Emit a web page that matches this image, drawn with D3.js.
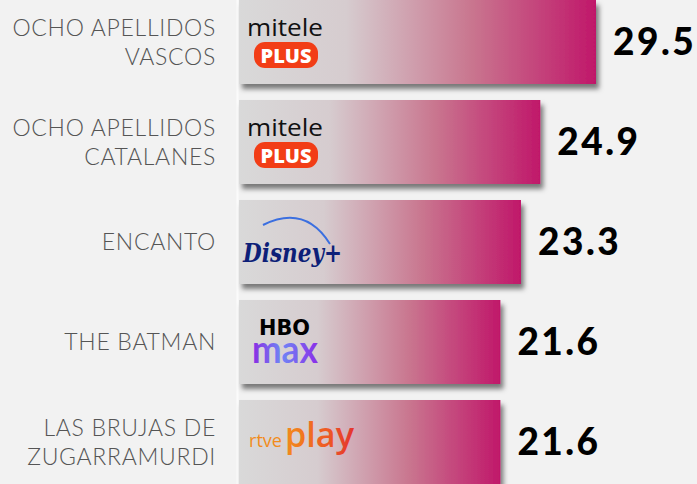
<!DOCTYPE html>
<html>
<head>
<meta charset="utf-8">
<script src="https://cdn.jsdelivr.net/npm/d3@7"></script>
<style>
  body { margin: 0; background: #f2f2f2; }
  svg { display: block; }
</style>
</head>
<body>
<div id="visualization"></div>
<script>
// chart data
const titles = [
  ['OCHO APELLIDOS', 'VASCOS'],
  ['OCHO APELLIDOS', 'CATALANES'],
  ['ENCANTO'],
  ['THE BATMAN'],
  ['LAS BRUJAS DE', 'ZUGARRAMURDI']
];
const values = [29.5, 24.9, 23.3, 21.6, 21.6];
const platforms = ['mitele', 'mitele', 'disney', 'hbo', 'rtve'];

const width = 697, height = 484;

const svg = d3.select('#visualization')
  .append('svg')
  .attr('width', width)
  .attr('height', height);

const defs = svg.append('defs');

const grad = defs.append('linearGradient')
  .attr('id', 'barGrad')
  .attr('x1', '0').attr('x2', '1').attr('y1', '0').attr('y2', '0');
grad.append('stop').attr('offset', '0').attr('stop-color', '#d9d9d9');
grad.append('stop').attr('offset', '0.3').attr('stop-color', '#d6cccf');
grad.append('stop').attr('offset', '0.65').attr('stop-color', '#c9768f');
grad.append('stop').attr('offset', '1').attr('stop-color', '#c0186a');

const shadow = defs.append('filter')
  .attr('id', 'shadow')
  .attr('x', '-10%').attr('y', '-20%')
  .attr('width', '130%').attr('height', '150%');
shadow.append('feDropShadow')
  .attr('dx', 3).attr('dy', 5)
  .attr('stdDeviation', 2.5)
  .attr('flood-color', '#000')
  .attr('flood-opacity', 0.5);

// logo gradients
const maxGrad = defs.append('linearGradient').attr('id', 'maxGrad');
maxGrad.append('stop').attr('offset', '0').attr('stop-color', '#8a2be2');
maxGrad.append('stop').attr('offset', '0.45').attr('stop-color', '#6f86f5');
maxGrad.append('stop').attr('offset', '1').attr('stop-color', '#8b2ee8');

const playGrad = defs.append('linearGradient').attr('id', 'playGrad');
playGrad.append('stop').attr('offset', '0').attr('stop-color', '#f28c1c');
playGrad.append('stop').attr('offset', '0.6').attr('stop-color', '#ee5a24');
playGrad.append('stop').attr('offset', '1').attr('stop-color', '#e3342f');

const x = d3.scaleLinear().domain([0, 29.5]).range([239, 596]);
const y = d3.scaleBand()
  .domain(d3.range(values.length))
  .range([0, 484])
  .paddingInner(0.16)
  .paddingOuter(0);

// white baseline
svg.append('line')
  .attr('x1', 237.5).attr('x2', 237.5)
  .attr('y1', 0).attr('y2', height)
  .attr('stroke', '#fbfbfb')
  .attr('stroke-width', 2);

const rows = svg.selectAll('g.row')
  .data(values)
  .join('g')
  .attr('class', 'row')
  .attr('transform', (d, i) => `translate(0,${y(i)})`);

rows.append('rect')
  .attr('x', x(0))
  .attr('y', 0)
  .attr('width', d => x(d) - x(0))
  .attr('height', y.bandwidth())
  .attr('fill', 'url(#barGrad)')
  .attr('filter', 'url(#shadow)');

const mid = y.bandwidth() / 2;

// category labels
rows.append('text')
  .attr('text-anchor', 'end')
  .attr('font-family', 'Lato, sans-serif')
  .attr('font-weight', 300)
  .attr('font-size', 23)
  .attr('fill', '#555')
  .attr('letter-spacing', 0.7)
  .each(function (d, i) {
    const lines = titles[i];
    const t = d3.select(this);
    lines.forEach((line, j) => {
      const off = lines.length === 1 ? 0 : (j === 0 ? -14.5 : 14.5);
      t.append('tspan')
        .attr('x', 216)
        .attr('y', mid + off + 8)
        .text(line);
    });
  });

// values
rows.append('text')
  .attr('x', d => x(d) + 17)
  .attr('y', mid + 13)
  .attr('font-family', 'Lato, sans-serif')
  .attr('font-weight', 900)
  .attr('font-size', 37)
  .attr('letter-spacing', 2.5)
  .attr('fill', '#000')
  .text(d => d.toFixed(1));

// platform logos
rows.each(function (d, i) {
  const g = d3.select(this).append('g').attr('class', 'logo');
  const p = platforms[i];
  if (p === 'mitele') {
    g.append('text')
      .attr('x', 247).attr('y', mid - 6)
      .attr('font-family', 'Open Sans, sans-serif')
      .attr('font-size', 24)
      .attr('fill', '#111')
      .attr('textLength', 76)
      .attr('lengthAdjust', 'spacingAndGlyphs')
      .text('mitele');
    g.append('rect')
      .attr('x', 254).attr('y', mid)
      .attr('width', 64).attr('height', 26)
      .attr('rx', 11)
      .attr('fill', '#f23d16');
    g.append('text')
      .attr('x', 286).attr('y', mid + 21)
      .attr('text-anchor', 'middle')
      .attr('font-family', 'Open Sans, sans-serif')
      .attr('font-weight', 800)
      .attr('font-size', 20)
      .attr('fill', '#fff')
      .text('PLUS');
  } else if (p === 'disney') {
    g.append('path')
      .attr('d', `M263,${mid - 17} Q305,${mid - 38} 330,${mid + 2}`)
      .attr('fill', 'none')
      .attr('stroke', '#3b6fe0')
      .attr('stroke-width', 2);
    g.append('text')
      .attr('x', 243).attr('y', mid + 20)
      .attr('font-family', 'DejaVu Serif, serif')
      .attr('font-style', 'italic')
      .attr('font-weight', 'bold')
      .attr('font-size', 26)
      .attr('fill', '#0d1f78')
      .attr('textLength', 99)
      .attr('lengthAdjust', 'spacingAndGlyphs')
      .text('Disney+');
  } else if (p === 'hbo') {
    g.append('text')
      .attr('x', 259).attr('y', mid - 7)
      .attr('font-family', 'DejaVu Sans, sans-serif')
      .attr('font-weight', 'bold')
      .attr('font-size', 21)
      .attr('fill', '#000')
      .attr('textLength', 51)
      .attr('lengthAdjust', 'spacingAndGlyphs')
      .text('HBO');
    g.append('text')
      .attr('x', 252).attr('y', mid + 21)
      .attr('font-family', 'Lato, sans-serif')
      .attr('font-weight', 'bold')
      .attr('font-size', 38)
      .attr('fill', 'url(#maxGrad)')
      .attr('textLength', 66)
      .attr('lengthAdjust', 'spacingAndGlyphs')
      .text('max');
  } else if (p === 'rtve') {
    g.append('text')
      .attr('x', 249).attr('y', mid + 5)
      .attr('font-family', 'Open Sans, sans-serif')
      .attr('font-size', 19)
      .attr('fill', '#f28c1c')
      .attr('textLength', 33)
      .attr('lengthAdjust', 'spacingAndGlyphs')
      .text('rtve');
    g.append('text')
      .attr('x', 285).attr('y', mid + 5)
      .attr('font-family', 'Open Sans, sans-serif')
      .attr('font-weight', 600)
      .attr('font-size', 35)
      .attr('fill', 'url(#playGrad)')
      .attr('textLength', 69)
      .attr('lengthAdjust', 'spacingAndGlyphs')
      .text('play');
  }
});
</script>
</body>
</html>
